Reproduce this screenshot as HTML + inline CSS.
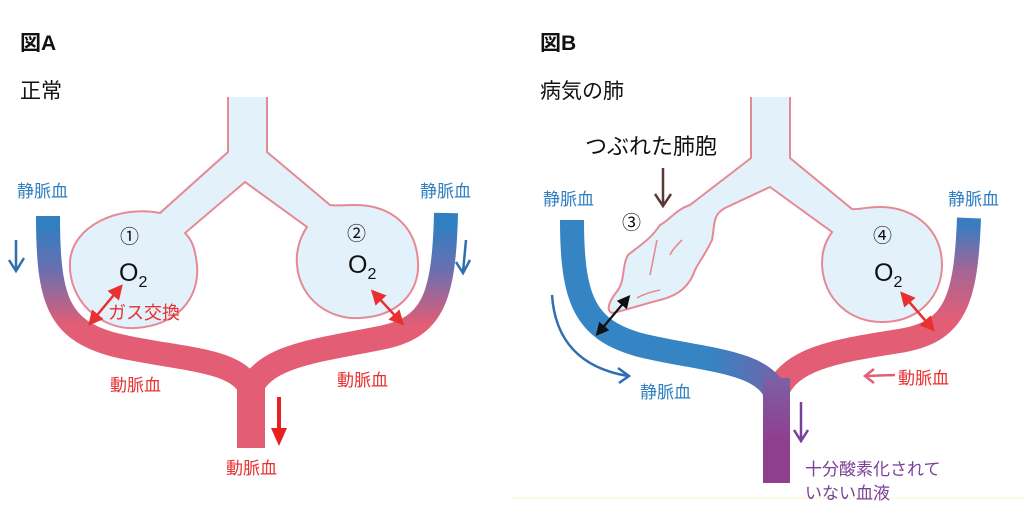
<!DOCTYPE html>
<html><head><meta charset="utf-8"><style>
html,body{margin:0;padding:0;background:#fff;}
svg{display:block;font-family:"Liberation Sans","Noto Sans CJK JP",sans-serif;}
</style></head><body>
<svg width="1024" height="521" viewBox="0 0 1024 521" xmlns="http://www.w3.org/2000/svg">
<defs>
<linearGradient id="gA" gradientUnits="userSpaceOnUse" x1="0" y1="225" x2="0" y2="325">
<stop offset="0" stop-color="#2f7fc1"/><stop offset="0.45" stop-color="#6a6fb0"/><stop offset="1" stop-color="#e35d75"/></linearGradient>
<linearGradient id="gBr" gradientUnits="userSpaceOnUse" x1="0" y1="225" x2="0" y2="320">
<stop offset="0" stop-color="#3a7cc0"/><stop offset="0.5" stop-color="#a86595"/><stop offset="1" stop-color="#e35d75"/></linearGradient>
<linearGradient id="gBl" gradientUnits="userSpaceOnUse" x1="560" y1="0" x2="790" y2="0">
<stop offset="0" stop-color="#3584c4"/><stop offset="0.65" stop-color="#3584c4"/><stop offset="1" stop-color="#7a5fa5"/></linearGradient>
<linearGradient id="gBt" gradientUnits="userSpaceOnUse" x1="0" y1="370" x2="0" y2="440">
<stop offset="0" stop-color="#7a64a8"/><stop offset="1" stop-color="#8e3f8e"/></linearGradient>
<marker id="ar" markerWidth="6" markerHeight="6" refX="3" refY="3" orient="auto-start-reverse"><path d="M0,0 L6,3 L0,6 Z" fill="#e83030"/></marker>
<marker id="ak" markerWidth="6" markerHeight="6" refX="3" refY="3" orient="auto-start-reverse"><path d="M0,0 L6,3 L0,6 Z" fill="#111"/></marker>
</defs>
<line x1="512" y1="498" x2="1024" y2="498" stroke="#fbf8e6" stroke-width="2"/>

<!-- Titles -->
<text x="20" y="50" font-size="21" font-weight="bold" fill="#111">図A</text>
<text x="20" y="98" font-size="21" fill="#111">正常</text>
<text x="540" y="50" font-size="21" font-weight="bold" fill="#111">図B</text>
<text x="540" y="98" font-size="21" fill="#111">病気の肺</text>

<!-- Panel A airways -->
<g fill="#e3f1fb" stroke="#e58a94" stroke-width="2">
<path d="M228,97 L228,152 L160,213 C120,205 72,225 70,262 C68,300 100,330 135,328 C175,326 200,300 197,265 C195,248 192,240 185,233 L245,182 L307,227 C298,240 296,255 297,265 C300,300 330,320 360,318 C400,316 420,290 418,262 C416,225 390,205 355,205 C345,205 335,206 330,205 L267,152 L267,97"/>
</g>
<g fill="none">
<path d="M48,216 C48,300 58,330 115,345 C180,360 238,358 251,390" stroke="url(#gA)" stroke-width="24"/>
<path d="M446,213 C444,300 432,328 380,338 C320,350 262,356 251,390" stroke="url(#gA)" stroke-width="24"/>
</g>
<rect x="237" y="375" width="28" height="73" fill="#e35d75"/>

<!-- Panel B airways -->
<g fill="#e3f1fb" stroke="#e58a94" stroke-width="2">
<path d="M751,97 L751,158 L690,205 C675,210 670,220 660,225 C650,240 640,245 628,255 C622,265 625,280 618,290 C610,300 605,310 612,313 C620,312 640,305 660,300 C680,295 690,285 695,270 C700,260 705,255 712,240 C715,225 712,215 725,208 L770,187 L832,232 C823,245 822,255 822,265 C824,300 850,322 882,322 C920,322 942,295 942,265 C942,230 915,207 880,207 C865,207 858,210 852,209 L790,158 L790,97"/>
</g>
<g fill="none" stroke="#e58a94" stroke-width="1.6">
<path d="M657,240 C654,255 652,265 650,275"/><path d="M660,290 C650,292 642,295 637,298"/><path d="M682,240 C677,245 672,250 670,255"/>
</g>
<g fill="none">
<path d="M969,218 C966,300 955,330 905,340 C845,350 788,356 776,395" stroke="url(#gBr)" stroke-width="24"/>
<path d="M572,220 C572,300 585,330 640,345 C700,360 765,360 776,395" stroke="url(#gBl)" stroke-width="24"/>
</g>
<rect x="763" y="378" width="27" height="105" fill="url(#gBt)"/>

<!-- Labels -->
<g font-size="17" fill="#2f7fc1"><text x="17" y="197">静脈血</text><text x="420" y="197">静脈血</text>
<text x="543" y="205">静脈血</text><text x="948" y="205">静脈血</text><text x="640" y="398">静脈血</text></g>
<g font-size="17" fill="#e83030"><text x="110" y="391">動脈血</text><text x="337" y="386">動脈血</text><text x="226" y="474">動脈血</text>
<text x="108" y="319" font-size="18">ガス交換</text><text x="898" y="384">動脈血</text></g>
<g font-size="19" fill="#111"><text x="120" y="243">①</text><text x="347" y="240">②</text><text x="873" y="242">④</text><text x="622" y="229">③</text></g>
<g font-size="25" fill="#111"><text x="119" y="281">O<tspan font-size="16" dy="6">2</tspan></text>
<text x="348" y="273">O<tspan font-size="16" dy="6">2</tspan></text>
<text x="874" y="281">O<tspan font-size="16" dy="6">2</tspan></text></g>
<text x="585" y="154" font-size="22" fill="#111">つぶれた肺胞</text>
<g font-size="17" fill="#7a3f9a"><text x="805" y="475">十分酸素化されて</text><text x="805" y="499">いない血液</text></g>

<!-- Arrows -->
<path d="M16,240 L16,270 M9,260 L16,271 L24,258" stroke="#2f6fb0" stroke-width="2.5" fill="none"/>
<path d="M466,240 L463,272 M456,262 L463,273 L470,260" stroke="#2f6fb0" stroke-width="2.5" fill="none"/>
<line x1="118" y1="290" x2="93" y2="320" stroke="#e83030" stroke-width="2.5" marker-start="url(#ar)" marker-end="url(#ar)"/>
<line x1="376" y1="295" x2="399" y2="320" stroke="#e83030" stroke-width="2.5" marker-start="url(#ar)" marker-end="url(#ar)"/>
<line x1="279" y1="397" x2="279" y2="430" stroke="#e82020" stroke-width="4"/>
<path d="M271,428 L287,428 L279,446 Z" fill="#e82020"/>
<path d="M663,168 L663,205 M655,194 L663,206 L671,194" stroke="#5a3a36" stroke-width="2.5" fill="none"/>
<line x1="626" y1="300" x2="600" y2="331" stroke="#111" stroke-width="2.2" marker-start="url(#ak)" marker-end="url(#ak)"/>
<line x1="905" y1="297" x2="930" y2="326" stroke="#e83030" stroke-width="2.5" marker-start="url(#ar)" marker-end="url(#ar)"/>
<path d="M552,295 C555,340 580,368 628,376 M618,368 L629,376 L619,383" stroke="#2f6fb0" stroke-width="2.5" fill="none"/>
<path d="M895,375 L866,376 M874,369 L865,376 L874,383" stroke="#e0607a" stroke-width="2.5" fill="none"/>
<path d="M801,402 L801,440 M794,430 L801,441 L808,430" stroke="#7a3f9a" stroke-width="2.5" fill="none"/>
</svg>
</body></html>
